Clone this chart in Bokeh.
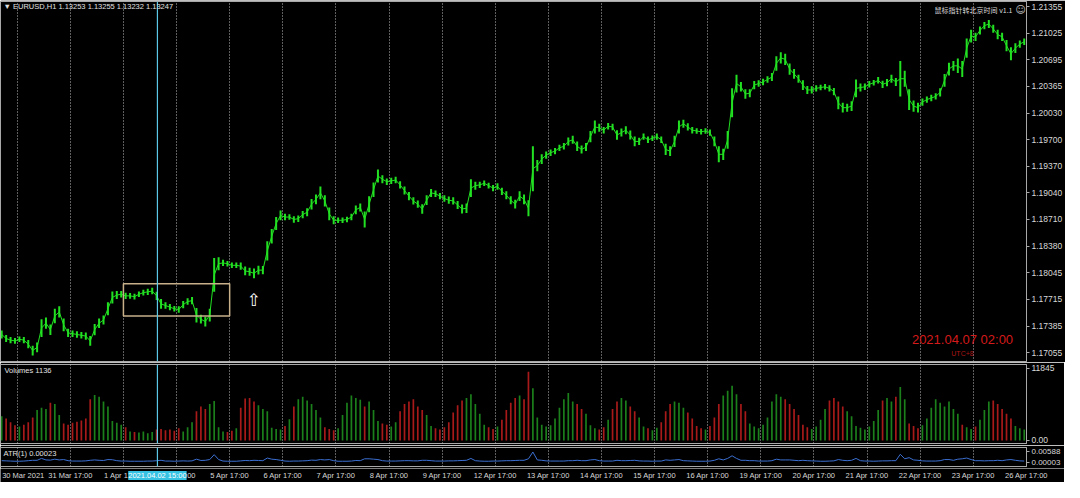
import numpy as np
from bokeh.plotting import figure
from bokeh.layouts import column
from bokeh.models import Range1d, FixedTicker, Grid, Span, Label, PrintfTickFormatter
from bokeh.core.properties import value
from bokeh.embed import file_html
from bokeh.resources import INLINE

# ---------------- data ----------------
day_labels = ["30 Mar 2021", "31 Mar 17:00", "1 Apr 17:00", "2 Apr 17:00", "5 Apr 17:00",
              "6 Apr 17:00", "7 Apr 17:00", "8 Apr 17:00", "9 Apr 17:00", "12 Apr 17:00",
              "13 Apr 17:00", "14 Apr 17:00", "15 Apr 17:00", "16 Apr 17:00", "19 Apr 17:00",
              "20 Apr 17:00", "21 Apr 17:00", "22 Apr 17:00", "23 Apr 17:00", "26 Apr 17:00"]
price_ticks = [1.21355, 1.21025, 1.20695, 1.20365, 1.20030, 1.19700, 1.19370,
               1.19040, 1.18710, 1.18380, 1.18045, 1.17715, 1.17385, 1.17055]
volume_ticks = [0, 11845]
atr_ticks = [0.00003, 0.00588]

# 2-hour bars: mid price of each bar
mid_price = [
    1.1728, 1.1723, 1.1721, 1.1720, 1.1722, 1.1721, 1.1716, 1.1708, 1.1712, 1.1736, 1.1742, 1.1734,
    1.1751, 1.1756, 1.1740, 1.1730, 1.1729, 1.1728, 1.1727, 1.1726, 1.1720, 1.1734, 1.1742, 1.1746,
    1.1760, 1.1774, 1.1777, 1.1778, 1.1776, 1.1776, 1.1775, 1.1778, 1.1780, 1.1781, 1.1782, 1.1776,
    1.1766, 1.1764, 1.1762, 1.1760, 1.1759, 1.1765, 1.1769, 1.1770, 1.1752, 1.1747, 1.1744, 1.1752,
    1.1802, 1.1816, 1.1817, 1.1816, 1.1814, 1.1814, 1.1813, 1.1807, 1.1806, 1.1804, 1.1808, 1.1808,
    1.1832, 1.1850, 1.1866, 1.1876, 1.1874, 1.1874, 1.1871, 1.1872, 1.1877, 1.1880, 1.1890, 1.1896,
    1.1904, 1.1894, 1.1878, 1.1870, 1.1870, 1.1870, 1.1871, 1.1874, 1.1883, 1.1886, 1.1871, 1.1890,
    1.1908, 1.1925, 1.1921, 1.1918, 1.1919, 1.1920, 1.1914, 1.1907, 1.1900, 1.1894, 1.1890, 1.1884,
    1.1895, 1.1904, 1.1903, 1.1900, 1.1897, 1.1895, 1.1894, 1.1889, 1.1884, 1.1885, 1.1910, 1.1913,
    1.1914, 1.1916, 1.1913, 1.1910, 1.1912, 1.1906, 1.1901, 1.1895, 1.1890, 1.1900, 1.1896, 1.1885,
    1.1934, 1.1938, 1.1946, 1.1951, 1.1954, 1.1956, 1.1960, 1.1962, 1.1968, 1.1970, 1.1962, 1.1958,
    1.1961, 1.1974, 1.1986, 1.1985, 1.1982, 1.1987, 1.1986, 1.1976, 1.1979, 1.1982, 1.1976, 1.1968,
    1.1968, 1.1974, 1.1970, 1.1972, 1.1974, 1.1970, 1.1958, 1.1956, 1.1968, 1.1986, 1.1990, 1.1986,
    1.1982, 1.1981, 1.1980, 1.1981, 1.1979, 1.1968, 1.1952, 1.1952, 1.1970, 1.2016, 1.2040, 1.2036,
    1.2027, 1.2028, 1.2038, 1.2040, 1.2042, 1.2045, 1.2048, 1.2065, 1.2072, 1.2070, 1.2058, 1.2052,
    1.2046, 1.2038, 1.2032, 1.2032, 1.2034, 1.2035, 1.2036, 1.2034, 1.2030, 1.2016, 1.2010, 1.2010,
    1.2012, 1.2034, 1.2035, 1.2036, 1.2039, 1.2041, 1.2044, 1.2039, 1.2041, 1.2046, 1.2042, 1.2046,
    1.2046, 1.2020, 1.2012, 1.2010, 1.2017, 1.2020, 1.2022, 1.2024, 1.2029, 1.2044, 1.2058, 1.2062,
    1.2062, 1.2058, 1.2084, 1.2099, 1.2098, 1.2106, 1.2112, 1.2114, 1.2108, 1.2101, 1.2098, 1.2087,
    1.2077, 1.2084, 1.2089, 1.2092,
]
# high-low range of each bar, in pips (also the ATR(1) value)
bar_range_pips = [
    10, 9, 8, 7, 7, 8, 10, 12, 12, 22, 14, 13,
    18, 14, 16, 10, 8, 8, 8, 9, 12, 14, 12, 11,
    16, 15, 10, 8, 8, 7, 7, 7, 7, 8, 8, 10,
    12, 8, 8, 7, 8, 9, 8, 9, 18, 11, 12, 16,
    42, 16, 8, 7, 7, 7, 9, 11, 10, 12, 11, 10,
    24, 18, 16, 12, 8, 7, 8, 8, 9, 10, 13, 12,
    16, 14, 16, 10, 7, 7, 7, 8, 11, 10, 20, 20,
    18, 16, 10, 8, 8, 8, 9, 10, 10, 9, 9, 12,
    12, 10, 8, 8, 8, 9, 9, 10, 11, 12, 22, 10,
    8, 7, 7, 8, 8, 9, 10, 10, 11, 12, 12, 20,
    56, 14, 12, 9, 8, 8, 8, 8, 10, 10, 12, 10,
    10, 14, 16, 10, 8, 8, 8, 12, 10, 10, 11, 12,
    9, 8, 8, 7, 8, 8, 14, 12, 14, 16, 10, 9,
    8, 7, 7, 7, 8, 12, 20, 14, 22, 36, 22, 12,
    12, 10, 10, 8, 8, 8, 10, 18, 14, 14, 14, 12,
    10, 12, 10, 9, 8, 7, 7, 8, 9, 16, 12, 10,
    12, 22, 10, 8, 8, 7, 8, 9, 9, 10, 10, 44,
    20, 26, 14, 12, 9, 8, 8, 8, 10, 16, 16, 12,
    18, 20, 24, 16, 10, 10, 9, 10, 10, 12, 10, 14,
    16, 12, 9, 8,
]
volume = [
    4000, 3600, 3000, 2500, 2300, 2600, 3000, 3800, 5000, 5400, 5200, 6200,
    6000, 4200, 2800, 2600, 2900, 3100, 3300, 3600, 6800, 7500, 7200, 6400,
    5600, 3200, 2900, 2600, 2200, 1500, 1400, 1300, 1500, 1200, 1400, 1800,
    1900, 1700, 1800, 1600, 2000, 1500, 2200, 3000, 4800, 5600, 5200, 6000,
    6500, 2200, 1500, 1400, 1600, 2000, 5400, 6900, 7000, 6400, 5800, 5200,
    4800, 2100, 1900, 1800, 2400, 3500, 5600, 6800, 7200, 6600, 6000, 5000,
    3800, 2200, 1900, 1700, 2000, 4200, 6200, 7400, 7000, 6700, 5600, 6400,
    5000, 3200, 2800, 2600, 2300, 3000, 4800, 6000, 6400, 6800, 5600, 5000,
    4200, 2400, 2000, 1800, 2200, 3000, 4600, 5800, 6600, 7000, 7600, 6000,
    4400, 2600, 2200, 1900, 2300, 3400, 5000, 6200, 7000, 7400, 6800, 11300,
    8600, 3800, 2600, 2300, 2500, 3600, 5400, 6800, 7800, 6400, 6000, 5200,
    4400, 2500, 2000, 1800, 2200, 3400, 5200, 6400, 7000, 6600, 5600, 4800,
    3800, 2300, 2000, 1700, 2100, 3000, 4800, 6000, 6400, 6200, 5400, 4600,
    3600, 2400, 2000, 1800, 2400, 3800, 6000, 7400, 8200, 9000, 7600, 6000,
    4800, 2800, 2300, 2000, 2600, 3800, 6400, 7600, 7200, 6800, 6000, 5200,
    4200, 2600, 2200, 1900, 2300, 3400, 5200, 6600, 7000, 6400, 5600, 4800,
    4000, 2400, 2100, 1800, 2300, 3200, 5000, 6600, 7000, 6400, 7200, 8800,
    6800, 2800, 2400, 2000, 2500, 3600, 5400, 6800, 6200, 5600, 6400, 5200,
    4400, 2600, 2200, 1900, 2300, 3400, 5000, 6400, 6600, 6000, 5200, 4400,
    3600, 2400, 2000, 1800,
]
first_bar_hour = -7          # hours relative to 30 Mar 17:00
bar_hours = 2
cursor_day = 2.64            # cyan crosshair position (days)
cursor_text = "2021.04.02 15:00"
box_days = (2.0, 4.0)
box_prices = (1.1751, 1.1791)
arrow_pos = (4.455, 1.1771)

# ---------------- derived ----------------
n = len(mid_price)
xs = (first_bar_hour + bar_hours * np.arange(n)) / 24.0
mid = np.array(mid_price)
rng = np.array(bar_range_pips) / 10000.0
hi = mid + rng / 2
lo = mid - rng / 2
up = np.concatenate([[True], mid[1:] >= mid[:-1]])
vol_colors = ["#1b7f1b" if u else "#a81a1a" for u in up]

FW = 1026
TOTAL_W = 1064
BG = "#000000"
GREEN = "#22e022"
CYAN = "#5ac8e6"
FONT = "Liberation Sans"
X0, X1 = -0.3142, 19.001
xr = Range1d(X0, X1)
day_ticks = list(range(len(day_labels)))


def base_fig(fh, yr, top=0, bottom=0):
    f = figure(frame_width=FW, frame_height=fh, x_range=xr, y_range=yr,
               output_backend="svg", toolbar_location=None,
               x_axis_location=None, y_axis_location="right",
               min_border_left=0, min_border_right=TOTAL_W - FW, min_border_top=top,
               min_border_bottom=bottom,
               background_fill_color=BG, border_fill_color=BG,
               outline_line_color="#a8a8a8", outline_line_width=1)
    f.grid.visible = False
    f.add_layout(Grid(dimension=0, ticker=FixedTicker(ticks=day_ticks),
                      grid_line_color="#d0d0d0", grid_line_dash="1 2", grid_line_width=1,
                      grid_line_alpha=0.9))
    ax = f.yaxis[0]
    ax.axis_line_color = "#a8a8a8"
    ax.major_tick_line_color = "#a8a8a8"
    ax.major_tick_out = 3
    ax.major_tick_in = 0
    ax.minor_tick_line_color = None
    ax.major_label_standoff = 2
    ax.major_label_text_color = "#d8d8d8"
    ax.major_label_text_font = FONT
    ax.major_label_text_font_size = "8.5px"
    f.add_layout(Span(location=cursor_day, dimension="height", line_color=CYAN, line_width=1.2))
    return f


# ---------------- main price panel ----------------
p = base_fig(360, Range1d(1.16944, 1.2142), top=1, bottom=1)
p.yaxis[0].ticker = FixedTicker(ticks=price_ticks)
p.yaxis[0].formatter = PrintfTickFormatter(format="%.5f")
p.line(xs, mid, line_color=GREEN, line_width=1)
p.segment(xs, lo, xs, hi, line_color=GREEN, line_width=2)
p.quad(left=box_days[0], right=box_days[1], bottom=box_prices[0], top=box_prices[1],
       fill_color=None, line_color="#c8b08a", line_width=1.5)
p.add_layout(Label(x=arrow_pos[0], y=arrow_pos[1], text="\u21e7", text_color="white",
                   text_font="DejaVu Sans", text_font_size="17px",
                   text_align="center", text_baseline="middle"))
p.add_layout(Label(x=3, y=355, x_units="screen", y_units="screen",
                   text="\u25bc EURUSD,H1  1.13253 1.13255 1.13232 1.13247",
                   text_color="#e0e0e0", text_font=FONT, text_font_size="7.5px",
                   text_baseline="middle"))
p.add_layout(Label(x=1012, y=352, x_units="screen", y_units="screen",
                   text="鼠标指针转北京时间 v1.1", text_color="#d8d8d8",
                   text_font="Noto Sans CJK SC", text_font_size="7px",
                   text_align="right", text_baseline="middle"))
p.add_layout(Label(x=1020, y=352, x_units="screen", y_units="screen",
                   text="\u263a", text_color="#c0c0c0", text_font="DejaVu Sans",
                   text_font_size="10px", text_align="center", text_baseline="middle"))
p.add_layout(Label(x=962, y=22, x_units="screen", y_units="screen",
                   text="2021.04.07 02:00", text_color="#d41a1a", text_font=FONT,
                   text_font_size="13px", text_align="center", text_baseline="middle"))
p.add_layout(Label(x=962, y=8, x_units="screen", y_units="screen",
                   text="UTC+8", text_color="#a81616", text_font=FONT,
                   text_font_size="7px", text_align="center", text_baseline="middle"))

# ---------------- volume panel ----------------
pv = base_fig(79, Range1d(-494, 12503), top=2, bottom=2)
pv.yaxis[0].ticker = FixedTicker(ticks=volume_ticks)
pv.yaxis[0].major_label_overrides = {0: "0.00"}
pv.vbar(x=xs, top=volume, bottom=0, width=0.032, fill_color=vol_colors, line_color=None)
pv.add_layout(Label(x=4, y=73, x_units="screen", y_units="screen", text="Volumes 1136",
                    text_color="#e0e0e0", text_font=FONT, text_font_size="7.5px",
                    text_baseline="middle"))

# ---------------- ATR panel ----------------
pa = base_fig(19, Range1d(-0.002097, 0.008007), top=2, bottom=2)
pa.yaxis[0].ticker = FixedTicker(ticks=atr_ticks)
pa.yaxis[0].formatter = PrintfTickFormatter(format="%.5f")
pa.yaxis[0].major_label_text_font_size = "8px"
pa.line(xs, rng, line_color="#3b6fd1", line_width=1)
pa.add_layout(Label(x=3, y=13, x_units="screen", y_units="screen", text="ATR(1) 0.00023",
                    text_color="#e0e0e0", text_font=FONT, text_font_size="7.5px",
                    text_baseline="middle"))

# ---------------- time scale row ----------------
px_per_day = FW / (X1 - X0)
pt = figure(frame_width=TOTAL_W, frame_height=14,
            x_range=Range1d(X0, X0 + TOTAL_W / px_per_day), y_range=Range1d(0, 1),
            output_backend="svg", toolbar_location=None,
            x_axis_location=None, y_axis_location=None, min_border=0,
            background_fill_color=BG, border_fill_color=BG, outline_line_color=None)
pt.grid.visible = False
label_offsets = [6] + [0] * (len(day_ticks) - 1)
pt.text(x=day_ticks, y=[0.5] * len(day_ticks), text=day_labels, x_offset=label_offsets,
        text_font=value(FONT), text_font_size="7.5px", text_color="#d8d8d8",
        text_align="center", text_baseline="middle")
pt.add_layout(Label(x=cursor_day, y=0.5, text=cursor_text, text_color="white",
                    text_font=FONT, text_font_size="7.5px", text_align="center",
                    text_baseline="middle", background_fill_color="#36c2e2"))

layout = column(p, pv, pa, pt, spacing=0)
open("out.html", "w").write(file_html(layout, INLINE))
